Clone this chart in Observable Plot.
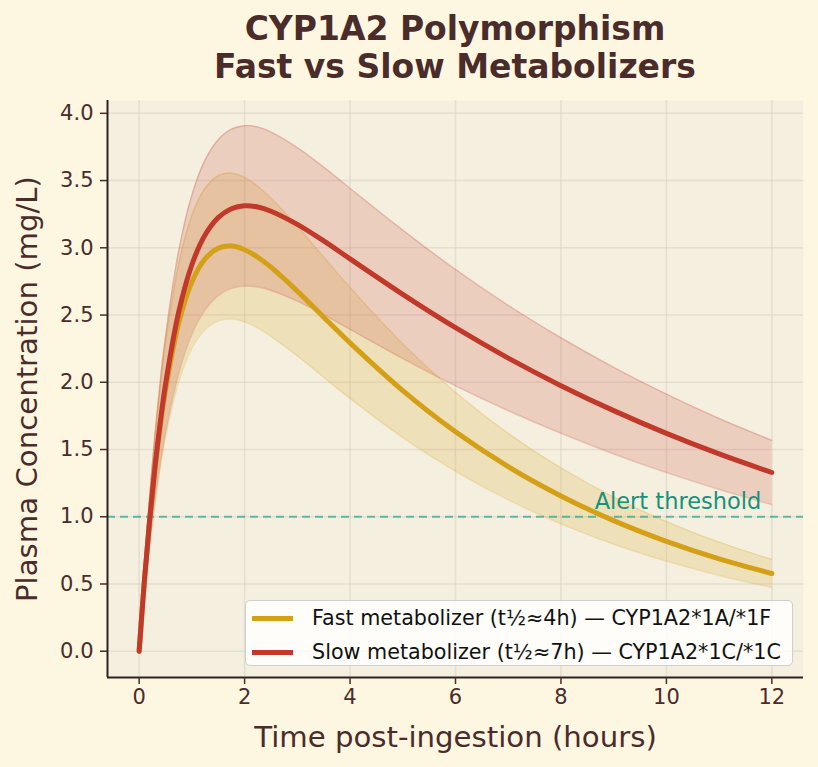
<!DOCTYPE html>
<html><head><meta charset="utf-8">
<script src="https://cdn.jsdelivr.net/npm/d3@7"></script>
<script src="https://cdn.jsdelivr.net/npm/@observablehq/plot@0.6"></script>
<style>
html,body{margin:0;padding:0;background:#fdf7e2;}
#wrap{position:relative;width:818px;height:767px;overflow:hidden;font-family:"DejaVu Sans",sans-serif;}
#title{position:absolute;left:92px;right:0;top:10px;text-align:center;font-weight:bold;font-size:33px;line-height:38px;color:#4a2c2a;}
#chart{position:absolute;left:0;top:92px;}
#legend{position:absolute;left:245px;top:600px;width:546px;height:64px;background:rgba(255,255,255,0.85);border:1.5px solid #cfcfcf;border-radius:5px;font-size:20.7px;color:#111;}
.row{position:absolute;left:0;height:30px;display:flex;align-items:center;white-space:nowrap;}
.sw{display:inline-block;width:41px;height:5px;margin-left:6px;margin-right:19px;}
</style></head>
<body><div id="wrap">
<div id="title">CYP1A2 Polymorphism<br>Fast vs Slow Metabolizers</div>
<div id="chart"></div>
<div id="legend"></div>
</div>
<script>
const hours    = [0, 0.1, 0.2, 0.3, 0.4, 0.5, 0.75, 1, 1.25, 1.5, 1.75, 2, 2.25, 2.5, 3, 3.5, 4, 5, 6, 7, 8, 9, 10, 11, 12];
const fastMean = [0, 0.524, 0.971, 1.350, 1.672, 1.942, 2.440, 2.746, 2.917, 2.997, 3.013, 2.986, 2.930, 2.856, 2.678, 2.484, 2.293, 1.938, 1.632, 1.373, 1.155, 0.971, 0.817, 0.687, 0.578];
const fastLow  = [0, 0.430, 0.796, 1.107, 1.371, 1.592, 2.001, 2.252, 2.392, 2.458, 2.471, 2.449, 2.403, 2.342, 2.196, 2.037, 1.880, 1.589, 1.338, 1.126, 0.947, 0.796, 0.670, 0.563, 0.474];
const fastHigh = [0, 0.618, 1.146, 1.593, 1.973, 2.292, 2.879, 3.240, 3.442, 3.536, 3.555, 3.523, 3.457, 3.370, 3.160, 2.931, 2.706, 2.287, 1.926, 1.620, 1.363, 1.146, 0.964, 0.811, 0.682];
const slowMean = [0, 0.527, 0.979, 1.368, 1.700, 1.984, 2.522, 2.874, 3.095, 3.224, 3.290, 3.312, 3.303, 3.272, 3.174, 3.051, 2.918, 2.654, 2.406, 2.180, 1.975, 1.789, 1.620, 1.467, 1.329];
const slowLow  = [0, 0.432, 0.803, 1.122, 1.394, 1.627, 2.068, 2.357, 2.538, 2.644, 2.698, 2.716, 2.708, 2.683, 2.603, 2.502, 2.393, 2.176, 1.973, 1.788, 1.620, 1.467, 1.328, 1.203, 1.090];
const slowHigh = [0, 0.622, 1.155, 1.614, 2.006, 2.341, 2.976, 3.391, 3.652, 3.804, 3.882, 3.908, 3.898, 3.861, 3.745, 3.600, 3.443, 3.132, 2.839, 2.572, 2.331, 2.111, 1.912, 1.731, 1.568];
const xTicks = [0, 2, 4, 6, 8, 10, 12];
const yTicks = [0, 0.5, 1, 1.5, 2, 2.5, 3, 3.5, 4];
const threshold = 1.0;
const thresholdLabel = "Alert threshold";
const seriesNames = ["Fast metabolizer (t½≈4h) — CYP1A2*1A/*1F", "Slow metabolizer (t½≈7h) — CYP1A2*1C/*1C"];
const seriesColors = ["#d4a017", "#c0392b"];
const xLabel = "Time post-ingestion (hours)";
const yLabel = "Plasma Concentration (mg/L)";

const fast = hours.map((t, i) => ({t, m: fastMean[i], lo: fastLow[i], hi: fastHigh[i]}));
const slow = hours.map((t, i) => ({t, m: slowMean[i], lo: slowLow[i], hi: slowHigh[i]}));
const xDom = [-0.6, 12.6];
const yDom = [-0.1954, 4.0954];
const ink = "#4a2c2a";
const spine = "#2e2220";
const curve = "catmull-rom";

const band = (d, c) => [
  Plot.areaY(d, {x: "t", y1: "lo", y2: "hi", fill: c, fillOpacity: 0.18, curve}),
  Plot.line(d, {x: "t", y: "lo", stroke: c, strokeOpacity: 0.22, strokeWidth: 1.5, curve}),
  Plot.line(d, {x: "t", y: "hi", stroke: c, strokeOpacity: 0.22, strokeWidth: 1.5, curve})
];

const chart = Plot.plot({
  width: 818, height: 675,
  marginLeft: 107, marginRight: 15, marginTop: 8, marginBottom: 90,
  style: {background: "transparent", color: ink, fontFamily: "DejaVu Sans, sans-serif", overflow: "visible"},
  x: {domain: xDom},
  y: {domain: yDom},
  marks: [
    Plot.frame({fill: "#f5efdf", stroke: null}),
    Plot.gridX(xTicks, {stroke: "#d8cfc2", strokeOpacity: 0.55, strokeWidth: 1.5}),
    Plot.gridY(yTicks, {stroke: "#d8cfc2", strokeOpacity: 0.55, strokeWidth: 1.5}),
    ...band(fast, seriesColors[0]),
    ...band(slow, seriesColors[1]),
    Plot.ruleY([threshold], {stroke: "#16a085", strokeOpacity: 0.65, strokeWidth: 2, strokeDasharray: "8,5"}),
    Plot.text([thresholdLabel], {x: 11.8, y: 1.06, text: d => d, textAnchor: "end", lineAnchor: "bottom", fill: "#16917a", fontSize: 22.5}),
    Plot.line(fast, {x: "t", y: "m", stroke: seriesColors[0], strokeWidth: 5, curve}),
    Plot.line(slow, {x: "t", y: "m", stroke: seriesColors[1], strokeWidth: 5, curve}),
    Plot.ruleY([yDom[0]], {stroke: spine, strokeWidth: 2}),
    Plot.ruleX([xDom[0]], {stroke: spine, strokeWidth: 2}),
    Plot.axisX(xTicks, {tickSize: 7, tickPadding: 5, fontSize: 21, label: null, stroke: ink, strokeWidth: 1.5, fill: ink}),
    Plot.axisY(yTicks, {tickSize: 7, tickPadding: 7, fontSize: 21, label: null, tickFormat: d3.format(".1f"), stroke: ink, strokeWidth: 1.5, fill: ink}),
    Plot.text([xLabel], {frameAnchor: "bottom", text: d => d, dy: 60, textAnchor: "middle", lineAnchor: "middle", fontSize: 29.2, fill: ink}),
    Plot.text([yLabel], {frameAnchor: "left", text: d => d, dx: -80, rotate: -90, textAnchor: "middle", lineAnchor: "middle", fontSize: 29.2, fill: ink})
  ]
});
document.getElementById("chart").appendChild(chart);

const legend = document.getElementById("legend");
seriesNames.forEach((name, i) => {
  const row = document.createElement("div");
  row.className = "row";
  row.style.top = (i === 0 ? 2 : 36) + "px";
  row.innerHTML = `<span class="sw" style="background:${seriesColors[i]}"></span><span>${name}</span>`;
  legend.appendChild(row);
});
</script>
</body></html>
